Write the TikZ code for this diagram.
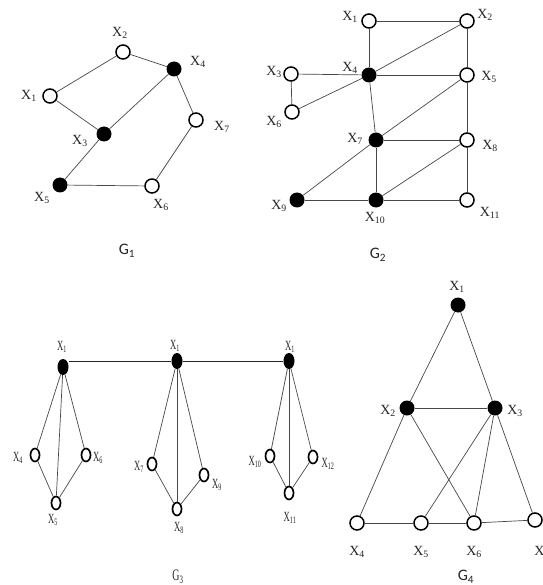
\documentclass[tikz,border=0pt]{standalone}
\usepackage{fontspec}
\setmainfont{Liberation Serif}
\newfontfamily\narrowfont[FakeStretch=0.62]{Liberation Serif}
\newfontfamily\gfont{Carlito}
\usetikzlibrary{shapes.geometric}
\newcommand\xl[1]{X\textsubscript{#1}}
\begin{document}
\begin{tikzpicture}[x=1pt,y=-1pt,
  edge/.style={draw=black!72, line width=0.7pt},
  onode/.style={circle, draw=black, line width=1.5pt, fill=white, minimum size=14pt, inner sep=0pt},
  fnode/.style={circle, fill=black, minimum size=15pt, inner sep=0pt},
  lbl/.style={font=\fontsize{14}{14}\selectfont, inner sep=0pt, text=black!85},
  gthree/.style={ellipse, draw=black, line width=1.7pt, fill=white, minimum width=9pt, minimum height=13pt, inner sep=0pt},
  gthreef/.style={ellipse, fill=black, minimum width=11pt, minimum height=16pt, inner sep=0pt},
  gthreel/.style={font=\narrowfont\fontsize{14}{14}\selectfont, inner sep=0pt, text=black!85},
  glab/.style={font=\gfont\fontsize{16}{16}\selectfont, inner sep=0pt, text=black!85}]
\useasboundingbox[fill=white] (0,0) rectangle (542,585);

% ---------- G1 ----------
\node[onode] (a1) at (50,96) {};
\node[onode] (a2) at (123,52) {};
\node[fnode] (a3) at (104,134) {};
\node[fnode] (a4) at (174,69) {};
\node[fnode] (a5) at (60,185) {};
\node[onode] (a6) at (152,186) {};
\node[onode] (a7) at (196,120) {};
\draw[edge] (a1) -- (a2);
\draw[edge] (a2) -- (a4);
\draw[edge] (a1) -- (a3);
\draw[edge] (a3) -- (a4);
\draw[edge] (a4) -- (a7);
\draw[edge] (a7) -- (a6);
\draw[edge] (a6) -- (a5);
\draw[edge] (a5) -- (a3);
\node[lbl] (la1) at (29,96) {\xl{1}};
\node[lbl] (la2) at (120,33) {\xl{2}};
\node[lbl] (la3) at (80,141) {\xl{3}};
\node[lbl] (la4) at (198,62) {\xl{4}};
\node[lbl] (la5) at (42,198) {\xl{5}};
\node[lbl] (la6) at (161,205) {\xl{6}};
\node[lbl] (la7) at (222,127) {\xl{7}};
\node[glab] (g1) at (127,251) {G\textsubscript{1}};

% ---------- G2 ----------
\node[onode] (b1) at (369,21) {};
\node[onode] (b2) at (467,21) {};
\node[onode] (b3) at (291,74) {};
\node[fnode] (b4) at (369,75) {};
\node[onode] (b5) at (467,75) {};
\node[onode] (b6) at (292,112) {};
\node[fnode] (b7) at (376,140) {};
\node[onode] (b8) at (467,140) {};
\node[fnode] (b9) at (297,200) {};
\node[fnode] (b10) at (376,200) {};
\node[onode] (b11) at (467,200) {};
\draw[edge] (b1) -- (b2);
\draw[edge] (b1) -- (b4);
\draw[edge] (b2) -- (b5);
\draw[edge] (b2) -- (b4);
\draw[edge] (b4) -- (b6);
\draw[edge] (b3) -- (b4);
\draw[edge] (b4) -- (b5);
\draw[edge] (b3) -- (b6);
\draw[edge] (b4) -- (b7);
\draw[edge] (b5) -- (b8);
\draw[edge] (b5) -- (b7);
\draw[edge] (b7) -- (b8);
\draw[edge] (b7) -- (b9);
\draw[edge] (b7) -- (b10);
\draw[edge] (b8) -- (b10);
\draw[edge] (b8) -- (b11);
\draw[edge] (b9) -- (b10);
\draw[edge] (b10) -- (b11);
\node[lbl] (lb1) at (350,17) {\xl{1}};
\node[lbl] (lb2) at (485,15) {\xl{2}};
\node[lbl] (lb3) at (274,72) {\xl{3}};
\node[lbl] (lb4) at (350,68) {\xl{4}};
\node[lbl] (lb5) at (489,77) {\xl{5}};
\node[lbl] (lb6) at (274,122) {\xl{6}};
\node[lbl] (lb7) at (355,139) {\xl{7}};
\node[lbl] (lb8) at (490,146) {\xl{8}};
\node[lbl] (lb9) at (279,206) {\xl{9}};
\node[lbl] (lb10) at (375,218) {\xl{10}};
\node[lbl] (lb11) at (490,213) {\xl{11}};
\node[glab] (g2) at (378,255) {G\textsubscript{2}};

% ---------- G3 ----------
\node[gthreef] (c1) at (63,367) {};
\node[gthreef] (c1b) at (177,361) {};
\node[gthreef] (c1c) at (289,361) {};
\node[gthree] (c4) at (35,455) {};
\node[gthree] (c5) at (56,503) {};
\node[gthree] (c6) at (86,455) {};
\node[gthree] (c7) at (152,464) {};
\node[gthree] (c8) at (177,509) {};
\node[gthree] (c9) at (204,475) {};
\node[gthree] (c10) at (270,456) {};
\node[gthree] (c11) at (289,493) {};
\node[gthree] (c12) at (313,457) {};
\draw[edge, draw=black!85, line width=0.9pt] (c1.east |- c1b) -- (c1b) -- (c1c);
\draw[edge] (c1) -- (c4);
\draw[edge] (c1) -- (c5);
\draw[edge] (c1) -- (c6);
\draw[edge] (c4) -- (c5);
\draw[edge] (c6) -- (c5);
\draw[edge] (c1b) -- (c7);
\draw[edge] (c1b) -- (c8);
\draw[edge] (c1b) -- (c9);
\draw[edge] (c7) -- (c8);
\draw[edge] (c9) -- (c8);
\draw[edge] (c1c) -- (c10);
\draw[edge] (c1c) -- (c11);
\draw[edge] (c1c) -- (c12);
\draw[edge] (c10) -- (c11);
\draw[edge] (c12) -- (c11);
\node[gthreel] (lc1) at (62,347) {\xl{1}};
\node[gthreel] (lc1b) at (175,346) {\xl{1}};
\node[gthreel] (lc1c) at (290,347) {\xl{1}};
\node[gthreel] (lc4) at (18,458) {\xl{4}};
\node[gthreel] (lc6) at (98,458) {\xl{6}};
\node[gthreel] (lc5) at (53,520) {\xl{5}};
\node[gthreel] (lc7) at (139,467) {\xl{7}};
\node[gthreel] (lc9) at (217,485) {\xl{9}};
\node[gthreel] (lc8) at (179,528) {\xl{8}};
\node[gthreel] (lc10) at (255,462) {\xl{10}};
\node[gthreel] (lc12) at (328,464) {\xl{12}};
\node[gthreel] (lc11) at (290,518) {\xl{11}};
\node[glab, font=\narrowfont\fontsize{16}{16}\selectfont] (g3) at (178,577) {G\textsubscript{3}};

% ---------- G4 ----------
\node[fnode] (d1) at (458,305) {};
\node[fnode] (d2) at (407,408) {};
\node[fnode] (d3) at (495,408) {};
\node[onode] (d4) at (357,523) {};
\node[onode] (d5) at (421,523) {};
\node[onode] (d6) at (474,523) {};
\node[onode] (d7) at (535,520) {};
\draw[edge] (d1) -- (d2);
\draw[edge] (d1) -- (d3);
\draw[edge] (d2) -- (d3);
\draw[edge] (d2) -- (d4);
\draw[edge] (d2) -- (d6);
\draw[edge] (d3) -- (d5);
\draw[edge] (d3) -- (d6);
\draw[edge] (d3) -- (d7);
\draw[edge] (d4) -- (d5);
\draw[edge] (d5) -- (d6);
\draw[edge] (d6) -- (d7);
\node[lbl] (ld1) at (457,287) {\xl{1}};
\node[lbl] (ld2) at (388,411) {\xl{2}};
\node[lbl] (ld3) at (515,411) {\xl{3}};
\node[lbl] (ld4) at (357,552) {\xl{4}};
\node[lbl] (ld5) at (421,552) {\xl{5}};
\node[lbl] (ld6) at (474,552) {\xl{6}};
\node[lbl] (ld7) at (542,552) {\xl{7}};
\node[glab] (g4) at (466,577) {G\textsubscript{4}};
\end{tikzpicture}
\end{document}
